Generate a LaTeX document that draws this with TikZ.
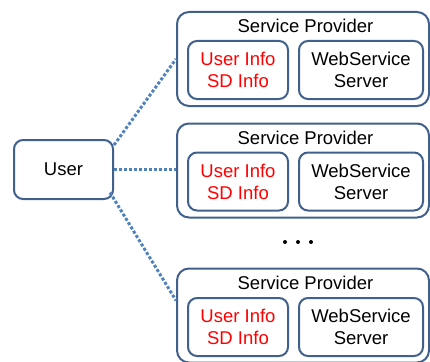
\documentclass[tikz,border=0pt]{standalone}
\usepackage{fontspec}
\setmainfont{Liberation Sans}
\definecolor{bordc}{HTML}{41618C}
\definecolor{linkc}{HTML}{4F81BD}
\definecolor{redc}{HTML}{FF0000}
\tikzset{
  outerbox/.style={draw=bordc, line width=2pt, rounded corners=12pt, minimum width=252pt, minimum height=94pt, inner sep=0pt},
  innerbox/.style={draw=bordc, line width=2pt, rounded corners=9pt, minimum height=58pt, inner sep=0pt, align=center, font=\fontsize{18.5}{22}\selectfont},
  titletext/.style={font=\fontsize{18.5}{22}\selectfont, inner sep=0pt},
  link/.style={draw=linkc, line width=3pt, dash pattern=on 3pt off 2pt},
  dotmark/.style={circle, fill=black, inner sep=0pt, minimum size=4pt}
}
\begin{document}
\begin{tikzpicture}[x=1pt,y=-1pt]
\useasboundingbox (0,0) rectangle (430,361);
% user
\node[innerbox, minimum width=99pt, minimum height=59pt] (user) at (63.5,169.5) {User};
% providers
\foreach \n/\cy/\iy/\ty in {1/59/70/26, 2/170.5/181.5/138, 3/315.5/327/283}{
  \node[outerbox] (sp\n) at (303,\cy) {};
  \node[titletext] (t\n) at (305.5,\ty) {Service Provider};
  \node[innerbox, minimum width=100pt, text=redc] (ui\n) at (238,\iy) {User Info\\SD Info};
  \node[innerbox, minimum width=124pt] (ws\n) at (361,\iy) {WebService\\Server};
}
% dots
\node[dotmark] (d1) at (285,242) {};
\node[dotmark] (d2) at (298,242) {};
\node[dotmark] (d3) at (311,242) {};
% links
\coordinate (u1) at ([yshift=24.5pt]user.east);
\coordinate (u2) at ([yshift=0.5pt]user.east);
\coordinate (u3) at ([xshift=-4pt,yshift=-23pt]user.east);
\coordinate (e3) at ([yshift=15pt]sp3.west);
\draw[link] (u1) -- (sp1.west);
\draw[link] (u2) -- ([yshift=1.5pt]sp2.west);
\draw[link] (u3) -- (e3);
\end{tikzpicture}
\end{document}
